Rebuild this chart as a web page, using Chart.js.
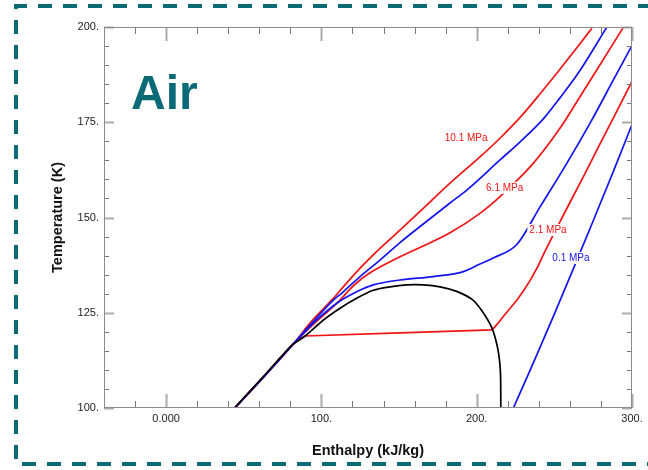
<!DOCTYPE html>
<html>
<head>
<meta charset="utf-8">
<title>Air T-h diagram</title>
<script src="https://cdn.jsdelivr.net/npm/chart.js"></script>
<style>
  body { margin: 0; background: #fff; }
  #wrap { width: 648px; height: 470px; }
</style>
</head>
<body>
<div id="wrap"><canvas id="chart" width="648" height="470"></canvas></div>
<script>
// enthalpy (kJ/kg) / temperature (K)
var h01 = [223.6, 236.4, 249.3, 262.2, 275.1, 288.0, 299.8];
var t01 = [100.0, 111.8, 124.0, 136.5, 149.2, 162.1, 174.2];

var h21 = [44.0, 62.4, 81.0, 89.4, 150.6, 210.0, 213.6, 217.1, 221.4, 225.8, 229.8, 234.4, 239.2, 244.0, 252.0, 260.1, 269.8, 279.4, 289.6, 299.8];
var t21 = [100.0, 108.1, 116.5, 118.9, 119.7, 120.5, 122.2, 124.0, 126.1, 128.3, 130.6, 133.5, 137.0, 141.2, 147.6, 154.0, 161.6, 169.3, 177.4, 185.6];

var h41 = [44.2, 62.6, 81.2, 86.4, 97.0, 109.9, 122.7, 133.4, 150.6, 172.1, 191.4, 202.1, 210.7, 225.8, 240.8, 258.0, 274.0, 288.0, 299.8];
var t41 = [100.0, 108.1, 116.5, 118.7, 123.1, 127.5, 130.5, 132.3, 133.6, 134.5, 135.8, 137.8, 139.4, 142.9, 152.8, 164.2, 175.5, 186.1, 195.0];

var h61 = [44.1, 62.5, 81.1, 96.5, 112.0, 118.4, 124.9, 133.4, 137.7, 150.6, 182.8, 202.1, 215.0, 236.4, 253.6, 266.5, 277.3, 294.4];
var t61 = [100.0, 108.1, 116.5, 122.6, 128.3, 131.2, 133.6, 136.0, 137.0, 139.7, 146.0, 151.1, 155.5, 164.2, 173.4, 181.7, 188.7, 199.9];

var h81 = [44.3, 62.7, 81.2, 94.6, 107.7, 114.1, 124.9, 137.7, 150.6, 165.6, 182.8, 193.6, 215.0, 227.8, 242.9, 253.6, 266.5, 283.7];
var t81 = [100.0, 108.1, 116.5, 122.6, 128.3, 130.5, 134.5, 138.8, 143.4, 148.3, 153.8, 157.2, 165.1, 169.8, 175.9, 181.4, 188.6, 199.9];

var h101 = [44.4, 62.8, 81.3, 93.3, 106.6, 114.1, 124.9, 137.7, 150.6, 165.6, 182.8, 202.1, 215.0, 227.8, 240.7, 253.6, 266.5, 274.2];
var t101 = [100.0, 108.1, 116.5, 122.6, 128.3, 131.8, 136.7, 141.9, 146.7, 152.4, 159.0, 165.9, 170.8, 176.2, 182.4, 188.9, 195.6, 199.7];

// saturation dome
var hSat = [44.0, 62.4, 81.1, 89.5, 101.3, 112.0, 122.7, 133.4, 144.2, 154.9, 165.6, 176.4, 187.1, 197.0, 203.0, 209.7, 213.5, 215.2, 215.5, 215.5];
var tSat = [100.0, 108.1, 116.5, 118.9, 123.1, 126.2, 128.8, 130.9, 131.8, 132.3, 132.3, 131.8, 130.6, 128.5, 125.7, 121.1, 115.7, 110.0, 103.0, 100.0];

var xTickValues = [0, 100, 200, 300];
var xTickLabels = ['0.000', '100.', '200.', '300.'];
var yTickValues = [100, 125, 150, 175, 200];
var yTickLabels = ['100.', '125.', '150.', '175.', '200.'];

// isobar labels: text, enthalpy, temperature, colour
var isoLabels = [
  ['10.1 MPa', 193.2, 170.7, '#f21414'],
  ['6.1 MPa', 218.0, 157.8, '#f21414'],
  ['2.1 MPa', 245.9, 146.7, '#f21414'],
  ['0.1 MPa', 260.7, 139.4, '#1414f0']
];

var RED = '#f21414', BLUE = '#1414f0', TEAL = '#0a6b77';
var FONT = '"Liberation Sans", Arial, sans-serif';

function pts(h, t) {
  return h.map(function (v, i) { return { x: v, y: t[i] }; });
}

function findLabel(vals, labels, v) {
  for (var i = 0; i < vals.length; i++) {
    if (Math.abs(vals[i] - v) < 1e-6) return labels[i];
  }
  return '';
}

function isMajor(vals, v) {
  return findLabel(vals, vals, v) !== '';
}

var decor = {
  id: 'decor',
  beforeDraw: function (chart) {
    var ctx = chart.ctx;
    ctx.save();
    ctx.strokeStyle = TEAL;
    ctx.lineWidth = 4;
    ctx.setLineDash([14, 11]);
    ctx.beginPath();
    ctx.moveTo(652, 6);
    ctx.lineTo(16, 6);
    ctx.lineTo(16, 464);
    ctx.lineTo(652, 464);
    ctx.stroke();
    ctx.restore();
  },
  afterDatasetsDraw: function (chart) {
    var ctx = chart.ctx, a = chart.chartArea;
    var sx = chart.scales.x, sy = chart.scales.y;
    ctx.save();

    function seg(x1, y1, x2, y2) {
      ctx.beginPath();
      ctx.moveTo(x1, y1);
      ctx.lineTo(x2, y2);
      ctx.stroke();
    }

    // inward ticks on all four sides
    sx.ticks.forEach(function (t) {
      var major = isMajor(xTickValues, t.value);
      var px = Math.round(sx.getPixelForValue(t.value)) + 0.5;
      var len = major ? 14 : 7;
      ctx.strokeStyle = major ? '#aaa' : '#777';
      ctx.lineWidth = major ? 2 : 1;
      seg(px, a.bottom, px, a.bottom - len);
      seg(px, a.top, px, a.top + len);
    });
    sy.ticks.forEach(function (t) {
      var major = isMajor(yTickValues, t.value);
      var py = Math.round(sy.getPixelForValue(t.value)) + 0.5;
      var len = major ? 10 : 5;
      ctx.strokeStyle = major ? '#aaa' : '#777';
      ctx.lineWidth = major ? 2 : 1;
      seg(a.left, py, a.left + len, py);
      seg(a.right, py, a.right - len, py);
    });

    ctx.strokeStyle = '#8c8c8c';
    ctx.lineWidth = 1;
    ctx.strokeRect(a.left + 0.5, a.top + 0.5, a.right - a.left - 1, a.bottom - a.top - 1);

    // isobar labels
    ctx.font = '10px ' + FONT;
    ctx.textAlign = 'center';
    ctx.textBaseline = 'middle';
    isoLabels.forEach(function (l) {
      var x = sx.getPixelForValue(l[1]);
      var y = sy.getPixelForValue(l[2]);
      var w = ctx.measureText(l[0]).width;
      ctx.fillStyle = '#fff';
      ctx.fillRect(x - w / 2 - 2, y - 6, w + 4, 12);
      ctx.fillStyle = l[3];
      ctx.fillText(l[0], x, y);
    });

    // fluid name
    ctx.font = 'bold 48px ' + FONT;
    ctx.textAlign = 'left';
    ctx.textBaseline = 'alphabetic';
    ctx.fillStyle = TEAL;
    ctx.fillText('Air', a.left + 27, a.top + 82);
    ctx.restore();
  }
};

function iso(h, t, color, smooth) {
  var d = {
    data: pts(h, t),
    showLine: true,
    borderColor: color,
    borderWidth: 1.7,
    pointRadius: 0
  };
  if (smooth === 'monotone') d.cubicInterpolationMode = 'monotone';
  else d.tension = smooth;
  return d;
}

var ctx = document.getElementById('chart').getContext('2d');
var chart = new Chart(ctx, {
  type: 'scatter',
  data: {
    datasets: [
      iso(hSat, tSat, '#000', 0.3),
      iso(h01, t01, BLUE, 'monotone'),
      iso(h41, t41, BLUE, 'monotone'),
      iso(h81, t81, BLUE, 'monotone'),
      iso(h21, t21, RED, 0),
      iso(h61, t61, RED, 'monotone'),
      iso(h101, t101, RED, 'monotone')
    ]
  },
  options: {
    responsive: false,
    animation: false,
    layout: { padding: { top: 27, right: 16, bottom: 0, left: 0 } },
    plugins: {
      legend: { display: false },
      tooltip: { enabled: false }
    },
    scales: {
      x: {
        type: 'linear',
        min: -40,
        max: 300,
        afterFit: function (s) { s.height = 62; },
        grid: { display: false },
        border: { display: false },
        ticks: {
          stepSize: 20,
          autoSkip: false,
          maxRotation: 0,
          padding: -4,
          color: '#222',
          font: { family: FONT, size: 11 },
          callback: function (v) { return findLabel(xTickValues, xTickLabels, v); }
        },
        title: {
          display: true,
          text: 'Enthalpy (kJ/kg)',
          color: '#111',
          font: { family: FONT, size: 14.5, weight: 'bold' },
          padding: { top: 0, bottom: 10 }
        }
      },
      y: {
        type: 'linear',
        min: 100,
        max: 200,
        afterFit: function (s) { s.width = 104; },
        grid: { display: false },
        border: { display: false },
        ticks: {
          stepSize: 5,
          autoSkip: false,
          padding: -3,
          color: '#222',
          font: { family: FONT, size: 11 },
          callback: function (v) { return findLabel(yTickValues, yTickLabels, v); }
        },
        title: {
          display: true,
          text: 'Temperature (K)',
          color: '#111',
          font: { family: FONT, size: 14.5, weight: 'bold' },
          padding: { top: 49, bottom: 0 }
        }
      }
    }
  },
  plugins: [decor]
});
</script>
</body>
</html>
